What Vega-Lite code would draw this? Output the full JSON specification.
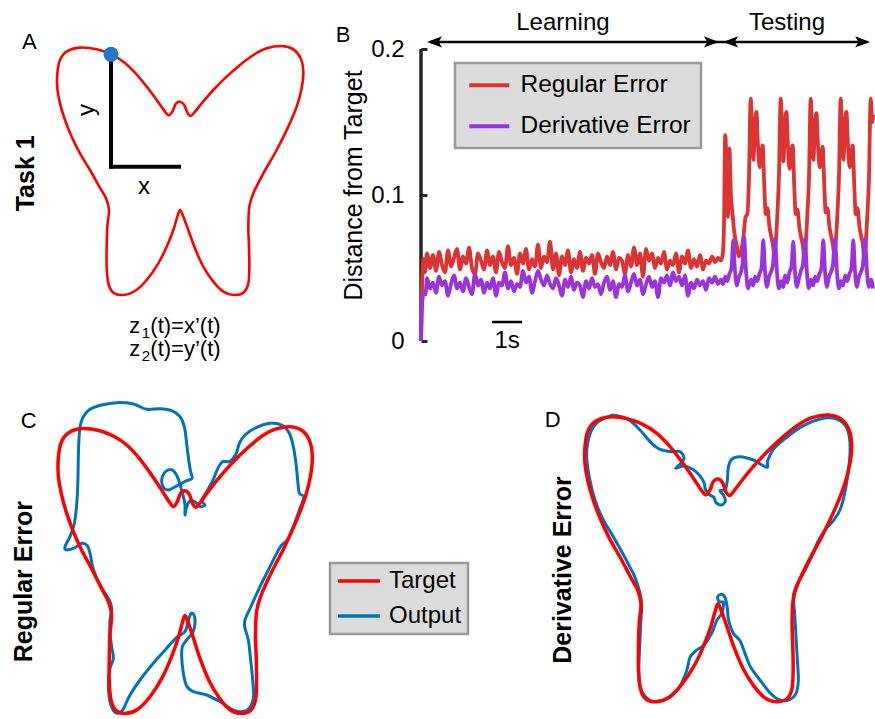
{
"$schema":"https://vega.github.io/schema/vega-lite/v6.json",
"padding":0,
"background":"white",
"config":{"view":{"stroke":null},"font":"Liberation Sans"},
"datasets":{
"target":[{"i":1,"x":333,"y":163},{"i":2,"x":370,"y":185},{"i":3,"x":405,"y":218},{"i":4,"x":440,"y":260},{"i":5,"x":470,"y":300},{"i":6,"x":495,"y":335},{"i":7,"x":507,"y":346},{"i":8,"x":518,"y":333},{"i":9,"x":527,"y":312},{"i":10,"x":540,"y":305},{"i":11,"x":553,"y":315},{"i":12,"x":562,"y":338},{"i":13,"x":572,"y":348},{"i":14,"x":585,"y":335},{"i":15,"x":605,"y":310},{"i":16,"x":640,"y":270},{"i":17,"x":680,"y":230},{"i":18,"x":720,"y":195},{"i":19,"x":760,"y":165},{"i":20,"x":800,"y":145},{"i":21,"x":845,"y":138},{"i":22,"x":880,"y":148},{"i":23,"x":902,"y":175},{"i":24,"x":910,"y":215},{"i":25,"x":905,"y":265},{"i":26,"x":890,"y":320},{"i":27,"x":865,"y":380},{"i":28,"x":830,"y":450},{"i":29,"x":790,"y":520},{"i":30,"x":760,"y":580},{"i":31,"x":748,"y":620},{"i":32,"x":745,"y":680},{"i":33,"x":747,"y":740},{"i":34,"x":748,"y":800},{"i":35,"x":745,"y":850},{"i":36,"x":730,"y":878},{"i":37,"x":700,"y":885},{"i":38,"x":670,"y":875},{"i":39,"x":640,"y":845},{"i":40,"x":610,"y":800},{"i":41,"x":585,"y":745},{"i":42,"x":565,"y":690},{"i":43,"x":550,"y":650},{"i":44,"x":540,"y":630},{"i":45,"x":532,"y":650},{"i":46,"x":520,"y":690},{"i":47,"x":500,"y":740},{"i":48,"x":475,"y":790},{"i":49,"x":440,"y":840},{"i":50,"x":405,"y":873},{"i":51,"x":370,"y":885},{"i":52,"x":340,"y":878},{"i":53,"x":325,"y":850},{"i":54,"x":320,"y":800},{"i":55,"x":320,"y":740},{"i":56,"x":322,"y":680},{"i":57,"x":327,"y":630},{"i":58,"x":318,"y":595},{"i":59,"x":298,"y":560},{"i":60,"x":270,"y":510},{"i":61,"x":240,"y":460},{"i":62,"x":215,"y":410},{"i":63,"x":195,"y":360},{"i":64,"x":180,"y":310},{"i":65,"x":172,"y":265},{"i":66,"x":172,"y":220},{"i":67,"x":180,"y":180},{"i":68,"x":200,"y":155},{"i":69,"x":240,"y":143},{"i":70,"x":290,"y":148}],
"outC":[{"i":1,"x":240,"y":140},{"i":2,"x":250,"y":110},{"i":3,"x":270,"y":88},{"i":4,"x":305,"y":75},{"i":5,"x":350,"y":68},{"i":6,"x":400,"y":72},{"i":7,"x":440,"y":88},{"i":8,"x":480,"y":86},{"i":9,"x":515,"y":92},{"i":10,"x":540,"y":110},{"i":11,"x":553,"y":140},{"i":12,"x":560,"y":190},{"i":13,"x":566,"y":240},{"i":14,"x":572,"y":275},{"i":15,"x":576,"y":295},{"i":16,"x":560,"y":302},{"i":17,"x":535,"y":315},{"i":18,"x":505,"y":330},{"i":19,"x":488,"y":318},{"i":20,"x":487,"y":290},{"i":21,"x":500,"y":272},{"i":22,"x":517,"y":270},{"i":23,"x":532,"y":290},{"i":24,"x":542,"y":320},{"i":25,"x":550,"y":350},{"i":26,"x":555,"y":375},{"i":27,"x":555,"y":405},{"i":28,"x":560,"y":380},{"i":29,"x":572,"y":362},{"i":30,"x":588,"y":368},{"i":31,"x":600,"y":380},{"i":32,"x":615,"y":375},{"i":33,"x":605,"y":362},{"i":34,"x":620,"y":335},{"i":35,"x":640,"y":298},{"i":36,"x":655,"y":262},{"i":37,"x":668,"y":245},{"i":38,"x":690,"y":244},{"i":39,"x":708,"y":222},{"i":40,"x":718,"y":190},{"i":41,"x":735,"y":165},{"i":42,"x":770,"y":142},{"i":43,"x":810,"y":130},{"i":44,"x":845,"y":135},{"i":45,"x":868,"y":160},{"i":46,"x":880,"y":200},{"i":47,"x":888,"y":250},{"i":48,"x":893,"y":300},{"i":49,"x":898,"y":340},{"i":50,"x":912,"y":350},{"i":51,"x":900,"y":385},{"i":52,"x":880,"y":440},{"i":53,"x":862,"y":480},{"i":54,"x":845,"y":495},{"i":55,"x":830,"y":520},{"i":56,"x":805,"y":570},{"i":57,"x":780,"y":620},{"i":58,"x":755,"y":675},{"i":59,"x":735,"y":720},{"i":60,"x":735,"y":745},{"i":61,"x":745,"y":780},{"i":62,"x":752,"y":840},{"i":63,"x":758,"y":900},{"i":64,"x":760,"y":955},{"i":65,"x":742,"y":990},{"i":66,"x":705,"y":992},{"i":67,"x":665,"y":968},{"i":68,"x":620,"y":945},{"i":69,"x":580,"y":935},{"i":70,"x":560,"y":918},{"i":71,"x":550,"y":880},{"i":72,"x":545,"y":830},{"i":73,"x":547,"y":800},{"i":74,"x":560,"y":780},{"i":75,"x":578,"y":758},{"i":76,"x":585,"y":730},{"i":77,"x":582,"y":705},{"i":78,"x":573,"y":700},{"i":79,"x":565,"y":722},{"i":80,"x":555,"y":755},{"i":81,"x":530,"y":772},{"i":82,"x":500,"y":805},{"i":83,"x":460,"y":850},{"i":84,"x":420,"y":900},{"i":85,"x":390,"y":945},{"i":86,"x":368,"y":990},{"i":87,"x":352,"y":1000},{"i":88,"x":338,"y":988},{"i":89,"x":328,"y":955},{"i":90,"x":325,"y":900},{"i":91,"x":330,"y":865},{"i":92,"x":340,"y":835},{"i":93,"x":335,"y":800},{"i":94,"x":330,"y":760},{"i":95,"x":330,"y":720},{"i":96,"x":335,"y":688},{"i":97,"x":328,"y":660},{"i":98,"x":310,"y":632},{"i":99,"x":292,"y":600},{"i":100,"x":278,"y":560},{"i":101,"x":270,"y":520},{"i":102,"x":262,"y":497},{"i":103,"x":245,"y":490},{"i":104,"x":225,"y":503},{"i":105,"x":200,"y":510},{"i":106,"x":195,"y":500},{"i":107,"x":210,"y":470},{"i":108,"x":222,"y":435},{"i":109,"x":228,"y":395},{"i":110,"x":232,"y":345},{"i":111,"x":234,"y":290},{"i":112,"x":235,"y":230},{"i":113,"x":237,"y":175},{"i":114,"x":240,"y":140}],
"outD":[{"i":1,"x":220,"y":105},{"i":2,"x":265,"y":118},{"i":3,"x":300,"y":150},{"i":4,"x":335,"y":190},{"i":5,"x":360,"y":208},{"i":6,"x":395,"y":215},{"i":7,"x":420,"y":215},{"i":8,"x":432,"y":235},{"i":9,"x":418,"y":255},{"i":10,"x":408,"y":265},{"i":11,"x":430,"y":258},{"i":12,"x":458,"y":268},{"i":13,"x":480,"y":288},{"i":14,"x":492,"y":308},{"i":15,"x":497,"y":330},{"i":16,"x":510,"y":345},{"i":17,"x":522,"y":352},{"i":18,"x":528,"y":368},{"i":19,"x":545,"y":375},{"i":20,"x":556,"y":362},{"i":21,"x":550,"y":345},{"i":22,"x":540,"y":332},{"i":23,"x":556,"y":328},{"i":24,"x":562,"y":300},{"i":25,"x":565,"y":262},{"i":26,"x":575,"y":238},{"i":27,"x":600,"y":230},{"i":28,"x":640,"y":240},{"i":29,"x":680,"y":262},{"i":30,"x":683,"y":242},{"i":31,"x":700,"y":208},{"i":32,"x":740,"y":172},{"i":33,"x":790,"y":137},{"i":34,"x":840,"y":117},{"i":35,"x":882,"y":115},{"i":36,"x":915,"y":135},{"i":37,"x":928,"y":170},{"i":38,"x":930,"y":220},{"i":39,"x":924,"y":280},{"i":40,"x":914,"y":340},{"i":41,"x":900,"y":390},{"i":42,"x":880,"y":422},{"i":43,"x":856,"y":448},{"i":44,"x":835,"y":482},{"i":45,"x":815,"y":530},{"i":46,"x":790,"y":580},{"i":47,"x":770,"y":615},{"i":48,"x":760,"y":650},{"i":49,"x":764,"y":700},{"i":50,"x":768,"y":770},{"i":51,"x":772,"y":840},{"i":52,"x":775,"y":900},{"i":53,"x":768,"y":940},{"i":54,"x":745,"y":960},{"i":55,"x":715,"y":958},{"i":56,"x":690,"y":938},{"i":57,"x":660,"y":900},{"i":58,"x":632,"y":862},{"i":59,"x":615,"y":820},{"i":60,"x":600,"y":782},{"i":61,"x":580,"y":760},{"i":62,"x":566,"y":722},{"i":63,"x":562,"y":685},{"i":64,"x":556,"y":655},{"i":65,"x":545,"y":643},{"i":66,"x":533,"y":650},{"i":67,"x":538,"y":665},{"i":68,"x":550,"y":668},{"i":69,"x":545,"y":700},{"i":70,"x":530,"y":722},{"i":71,"x":515,"y":760},{"i":72,"x":492,"y":795},{"i":73,"x":468,"y":812},{"i":74,"x":450,"y":832},{"i":75,"x":440,"y":872},{"i":76,"x":420,"y":918},{"i":77,"x":395,"y":948},{"i":78,"x":370,"y":960},{"i":79,"x":340,"y":965},{"i":80,"x":318,"y":952},{"i":81,"x":302,"y":925},{"i":82,"x":296,"y":880},{"i":83,"x":299,"y":800},{"i":84,"x":302,"y":730},{"i":85,"x":305,"y":680},{"i":86,"x":300,"y":640},{"i":87,"x":285,"y":592},{"i":88,"x":268,"y":558},{"i":89,"x":248,"y":520},{"i":90,"x":220,"y":470},{"i":91,"x":190,"y":420},{"i":92,"x":165,"y":360},{"i":93,"x":148,"y":292},{"i":94,"x":140,"y":222},{"i":95,"x":150,"y":162},{"i":96,"x":175,"y":125},{"i":97,"x":220,"y":105}],
"reg":[{"t":0,"v":0},{"t":0.04,"v":0.04},{"t":0.08,"v":0.056},{"t":0.13,"v":0.047},{"t":0.2,"v":0.06},{"t":0.3,"v":0.05},{"t":0.4,"v":0.059},{"t":0.5,"v":0.048},{"t":0.6,"v":0.061},{"t":0.7,"v":0.052},{"t":0.8,"v":0.047},{"t":0.9,"v":0.062},{"t":1.0,"v":0.051},{"t":1.1,"v":0.057},{"t":1.2,"v":0.063},{"t":1.3,"v":0.049},{"t":1.4,"v":0.058},{"t":1.5,"v":0.053},{"t":1.6,"v":0.064},{"t":1.7,"v":0.05},{"t":1.8,"v":0.046},{"t":1.9,"v":0.06},{"t":2.0,"v":0.055},{"t":2.1,"v":0.049},{"t":2.2,"v":0.062},{"t":2.3,"v":0.052},{"t":2.4,"v":0.058},{"t":2.5,"v":0.047},{"t":2.6,"v":0.061},{"t":2.7,"v":0.054},{"t":2.8,"v":0.05},{"t":2.9,"v":0.065},{"t":3.0,"v":0.052},{"t":3.1,"v":0.057},{"t":3.2,"v":0.046},{"t":3.3,"v":0.06},{"t":3.4,"v":0.053},{"t":3.5,"v":0.063},{"t":3.6,"v":0.049},{"t":3.7,"v":0.056},{"t":3.8,"v":0.051},{"t":3.9,"v":0.066},{"t":4.0,"v":0.05},{"t":4.1,"v":0.058},{"t":4.2,"v":0.054},{"t":4.3,"v":0.068},{"t":4.4,"v":0.049},{"t":4.5,"v":0.06},{"t":4.6,"v":0.045},{"t":4.7,"v":0.058},{"t":4.8,"v":0.052},{"t":4.9,"v":0.062},{"t":5.0,"v":0.047},{"t":5.1,"v":0.056},{"t":5.2,"v":0.05},{"t":5.3,"v":0.061},{"t":5.4,"v":0.048},{"t":5.5,"v":0.057},{"t":5.6,"v":0.053},{"t":5.7,"v":0.059},{"t":5.8,"v":0.046},{"t":5.9,"v":0.06},{"t":6.0,"v":0.054},{"t":6.1,"v":0.05},{"t":6.2,"v":0.058},{"t":6.3,"v":0.052},{"t":6.4,"v":0.061},{"t":6.5,"v":0.049},{"t":6.6,"v":0.057},{"t":6.7,"v":0.055},{"t":6.8,"v":0.046},{"t":6.9,"v":0.059},{"t":7.0,"v":0.051},{"t":7.1,"v":0.064},{"t":7.2,"v":0.052},{"t":7.3,"v":0.06},{"t":7.4,"v":0.044},{"t":7.5,"v":0.063},{"t":7.6,"v":0.055},{"t":7.7,"v":0.06},{"t":7.8,"v":0.05},{"t":7.9,"v":0.057},{"t":8.0,"v":0.053},{"t":8.1,"v":0.061},{"t":8.2,"v":0.049},{"t":8.3,"v":0.055},{"t":8.4,"v":0.052},{"t":8.5,"v":0.06},{"t":8.6,"v":0.047},{"t":8.7,"v":0.058},{"t":8.8,"v":0.053},{"t":8.9,"v":0.062},{"t":9.0,"v":0.05},{"t":9.1,"v":0.056},{"t":9.2,"v":0.051},{"t":9.3,"v":0.059},{"t":9.4,"v":0.049},{"t":9.5,"v":0.055},{"t":9.6,"v":0.053},{"t":9.7,"v":0.058},{"t":9.8,"v":0.054},{"t":9.9,"v":0.057},{"t":10.0,"v":0.055},{"t":10.06,"v":0.06},{"t":10.1,"v":0.08},{"t":10.14,"v":0.141},{"t":10.19,"v":0.118},{"t":10.23,"v":0.085},{"t":10.28,"v":0.132},{"t":10.33,"v":0.1},{"t":10.38,"v":0.088},{"t":10.44,"v":0.075},{"t":10.52,"v":0.066},{"t":10.6,"v":0.058},{"t":10.68,"v":0.062},{"t":10.75,"v":0.072},{"t":10.82,"v":0.085},{"t":10.88,"v":0.087},{"t":10.93,"v":0.11},{"t":10.99,"v":0.166},{"t":11.04,"v":0.14},{"t":11.08,"v":0.124},{"t":11.13,"v":0.148},{"t":11.18,"v":0.157},{"t":11.23,"v":0.135},{"t":11.29,"v":0.119},{"t":11.34,"v":0.127},{"t":11.39,"v":0.134},{"t":11.44,"v":0.108},{"t":11.49,"v":0.087},{"t":11.55,"v":0.091},{"t":11.61,"v":0.079},{"t":11.67,"v":0.072},{"t":11.73,"v":0.066},{"t":11.77,"v":0.06},{"t":11.88,"v":0.087},{"t":11.93,"v":0.112},{"t":11.99,"v":0.166},{"t":12.04,"v":0.141},{"t":12.08,"v":0.123},{"t":12.13,"v":0.149},{"t":12.18,"v":0.157},{"t":12.23,"v":0.134},{"t":12.29,"v":0.118},{"t":12.34,"v":0.128},{"t":12.39,"v":0.134},{"t":12.44,"v":0.107},{"t":12.49,"v":0.087},{"t":12.55,"v":0.09},{"t":12.61,"v":0.078},{"t":12.67,"v":0.071},{"t":12.73,"v":0.065},{"t":12.77,"v":0.058},{"t":12.88,"v":0.087},{"t":12.93,"v":0.11},{"t":12.99,"v":0.166},{"t":13.04,"v":0.14},{"t":13.08,"v":0.124},{"t":13.13,"v":0.148},{"t":13.18,"v":0.156},{"t":13.23,"v":0.135},{"t":13.29,"v":0.119},{"t":13.34,"v":0.127},{"t":13.39,"v":0.133},{"t":13.44,"v":0.108},{"t":13.49,"v":0.088},{"t":13.55,"v":0.091},{"t":13.61,"v":0.079},{"t":13.67,"v":0.072},{"t":13.73,"v":0.066},{"t":13.77,"v":0.06},{"t":13.88,"v":0.087},{"t":13.93,"v":0.111},{"t":13.99,"v":0.166},{"t":14.04,"v":0.14},{"t":14.08,"v":0.124},{"t":14.13,"v":0.148},{"t":14.18,"v":0.157},{"t":14.23,"v":0.135},{"t":14.29,"v":0.119},{"t":14.34,"v":0.127},{"t":14.39,"v":0.134},{"t":14.44,"v":0.108},{"t":14.49,"v":0.087},{"t":14.55,"v":0.091},{"t":14.61,"v":0.079},{"t":14.67,"v":0.072},{"t":14.73,"v":0.066},{"t":14.77,"v":0.058},{"t":14.88,"v":0.087},{"t":14.93,"v":0.11},{"t":14.99,"v":0.166},{"t":15.04,"v":0.15},{"t":15.07,"v":0.155}],
"der":[{"t":0,"v":0},{"t":0.04,"v":0.026},{"t":0.1,"v":0.034},{"t":0.15,"v":0.032},{"t":0.2,"v":0.043},{"t":0.3,"v":0.036},{"t":0.4,"v":0.04},{"t":0.5,"v":0.033},{"t":0.6,"v":0.044},{"t":0.7,"v":0.038},{"t":0.8,"v":0.041},{"t":0.9,"v":0.031},{"t":1.0,"v":0.039},{"t":1.1,"v":0.045},{"t":1.2,"v":0.036},{"t":1.3,"v":0.04},{"t":1.4,"v":0.034},{"t":1.5,"v":0.043},{"t":1.6,"v":0.037},{"t":1.7,"v":0.032},{"t":1.8,"v":0.046},{"t":1.9,"v":0.038},{"t":2.0,"v":0.042},{"t":2.1,"v":0.033},{"t":2.2,"v":0.04},{"t":2.3,"v":0.036},{"t":2.4,"v":0.043},{"t":2.5,"v":0.031},{"t":2.6,"v":0.04},{"t":2.7,"v":0.038},{"t":2.8,"v":0.047},{"t":2.9,"v":0.036},{"t":3.0,"v":0.041},{"t":3.1,"v":0.034},{"t":3.2,"v":0.039},{"t":3.3,"v":0.037},{"t":3.4,"v":0.048},{"t":3.5,"v":0.04},{"t":3.6,"v":0.044},{"t":3.7,"v":0.033},{"t":3.8,"v":0.041},{"t":3.9,"v":0.048},{"t":4.0,"v":0.042},{"t":4.1,"v":0.038},{"t":4.2,"v":0.045},{"t":4.3,"v":0.039},{"t":4.4,"v":0.036},{"t":4.5,"v":0.043},{"t":4.6,"v":0.038},{"t":4.7,"v":0.031},{"t":4.8,"v":0.042},{"t":4.9,"v":0.037},{"t":5.0,"v":0.044},{"t":5.1,"v":0.035},{"t":5.2,"v":0.04},{"t":5.3,"v":0.038},{"t":5.4,"v":0.03},{"t":5.5,"v":0.041},{"t":5.6,"v":0.036},{"t":5.7,"v":0.043},{"t":5.8,"v":0.037},{"t":5.9,"v":0.039},{"t":6.0,"v":0.032},{"t":6.1,"v":0.04},{"t":6.2,"v":0.044},{"t":6.3,"v":0.035},{"t":6.4,"v":0.041},{"t":6.5,"v":0.03},{"t":6.6,"v":0.039},{"t":6.7,"v":0.037},{"t":6.8,"v":0.045},{"t":6.9,"v":0.034},{"t":7.0,"v":0.04},{"t":7.1,"v":0.046},{"t":7.2,"v":0.038},{"t":7.3,"v":0.042},{"t":7.4,"v":0.032},{"t":7.5,"v":0.039},{"t":7.6,"v":0.044},{"t":7.7,"v":0.037},{"t":7.8,"v":0.041},{"t":7.9,"v":0.03},{"t":8.0,"v":0.043},{"t":8.1,"v":0.04},{"t":8.2,"v":0.045},{"t":8.3,"v":0.038},{"t":8.4,"v":0.047},{"t":8.5,"v":0.041},{"t":8.6,"v":0.044},{"t":8.7,"v":0.038},{"t":8.8,"v":0.045},{"t":8.9,"v":0.031},{"t":9.0,"v":0.04},{"t":9.1,"v":0.036},{"t":9.2,"v":0.042},{"t":9.3,"v":0.038},{"t":9.4,"v":0.041},{"t":9.5,"v":0.035},{"t":9.6,"v":0.043},{"t":9.7,"v":0.04},{"t":9.8,"v":0.044},{"t":9.9,"v":0.039},{"t":10.0,"v":0.042},{"t":10.07,"v":0.039},{"t":10.14,"v":0.044},{"t":10.21,"v":0.041},{"t":10.28,"v":0.046},{"t":10.35,"v":0.05},{"t":10.41,"v":0.069},{"t":10.46,"v":0.05},{"t":10.53,"v":0.038},{"t":10.6,"v":0.044},{"t":10.66,"v":0.047},{"t":10.72,"v":0.053},{"t":10.77,"v":0.071},{"t":10.83,"v":0.049},{"t":10.9,"v":0.036},{"t":11.0,"v":0.042},{"t":11.07,"v":0.038},{"t":11.14,"v":0.044},{"t":11.21,"v":0.041},{"t":11.28,"v":0.046},{"t":11.35,"v":0.05},{"t":11.41,"v":0.069},{"t":11.46,"v":0.05},{"t":11.53,"v":0.037},{"t":11.6,"v":0.044},{"t":11.66,"v":0.047},{"t":11.73,"v":0.052},{"t":11.8,"v":0.07},{"t":11.86,"v":0.049},{"t":11.93,"v":0.036},{"t":12.0,"v":0.041},{"t":12.07,"v":0.037},{"t":12.14,"v":0.045},{"t":12.21,"v":0.04},{"t":12.28,"v":0.047},{"t":12.35,"v":0.051},{"t":12.41,"v":0.068},{"t":12.46,"v":0.049},{"t":12.53,"v":0.037},{"t":12.6,"v":0.043},{"t":12.66,"v":0.048},{"t":12.73,"v":0.052},{"t":12.8,"v":0.07},{"t":12.86,"v":0.048},{"t":12.93,"v":0.036},{"t":13.0,"v":0.042},{"t":13.07,"v":0.038},{"t":13.14,"v":0.044},{"t":13.21,"v":0.041},{"t":13.28,"v":0.046},{"t":13.35,"v":0.05},{"t":13.41,"v":0.069},{"t":13.46,"v":0.05},{"t":13.53,"v":0.037},{"t":13.6,"v":0.044},{"t":13.66,"v":0.047},{"t":13.73,"v":0.052},{"t":13.8,"v":0.07},{"t":13.86,"v":0.049},{"t":13.93,"v":0.036},{"t":14.0,"v":0.041},{"t":14.07,"v":0.038},{"t":14.14,"v":0.045},{"t":14.21,"v":0.041},{"t":14.28,"v":0.046},{"t":14.35,"v":0.05},{"t":14.41,"v":0.069},{"t":14.46,"v":0.05},{"t":14.53,"v":0.037},{"t":14.6,"v":0.044},{"t":14.66,"v":0.047},{"t":14.73,"v":0.052},{"t":14.8,"v":0.07},{"t":14.86,"v":0.049},{"t":14.93,"v":0.037},{"t":15.0,"v":0.042},{"t":15.07,"v":0.036}]
},
"spacing":10,
"resolve":{"scale":{"color":"independent"},"legend":{"color":"independent"}},
"vconcat":[
{"hconcat":[
 {"width":320,"height":370,
  "encoding":{"x":{"field":"x","type":"quantitative","scale":{"domain":[0,960],"nice":false,"zero":false},"axis":null},
              "y":{"field":"y","type":"quantitative","scale":{"domain":[1110,0],"nice":false,"zero":false},"axis":null}},
  "layer":[
   {"data":{"name":"target"},"mark":{"type":"line","color":"#ff0000","strokeWidth":2.6,"interpolate":"cardinal-closed"},"encoding":{"order":{"field":"i","type":"quantitative"}}},
   {"data":{"values":[{"x":333,"y":163,"x2":333,"y2":500},{"x":333,"y":500,"x2":537,"y2":500}]},"mark":{"type":"rule","color":"black","strokeWidth":4,"strokeCap":"square"},"encoding":{"x2":{"field":"x2"},"y2":{"field":"y2"}}},
   {"data":{"values":[{"x":333,"y":163}]},"mark":{"type":"point","filled":true,"color":"#1f78c8","size":225,"opacity":1}},
   {"data":{"values":[{"x":88,"y":125,"label":"A"}]},"mark":{"type":"text","fontSize":22,"align":"center","baseline":"middle"},"encoding":{"text":{"field":"label"}}},
   {"data":{"values":[{"x":432,"y":562,"label":"x"}]},"mark":{"type":"text","fontSize":24,"align":"center","baseline":"middle"},"encoding":{"text":{"field":"label"}}},
   {"data":{"values":[{"x":262,"y":330,"label":"y"}]},"mark":{"type":"text","fontSize":24,"align":"center","baseline":"middle","angle":270},"encoding":{"text":{"field":"label"}}},
   {"data":{"values":[{"x":78,"y":520,"label":"Task 1"}]},"mark":{"type":"text","fontSize":25,"fontWeight":"bold","align":"center","baseline":"middle","angle":270},"encoding":{"text":{"field":"label"}}},
   {"data":{"values":[{"x":388,"y":1000,"label":"z"},{"x":451,"y":1000,"label":"(t)=x’(t)"},{"x":388,"y":1068,"label":"z"},{"x":451,"y":1068,"label":"(t)=y’(t)"}]},"mark":{"type":"text","fontSize":22,"align":"left","baseline":"alphabetic"},"encoding":{"text":{"field":"label"}}},
   {"data":{"values":[{"x":425,"y":1015,"label":"1"},{"x":425,"y":1083,"label":"2"}]},"mark":{"type":"text","fontSize":15,"align":"left","baseline":"alphabetic"},"encoding":{"text":{"field":"label"}}}
  ]},
 {"width":454,"height":370,
  "encoding":{"x":{"field":"t","type":"quantitative","scale":{"domain":[0,15.1333],"nice":false,"zero":false},"axis":null},
              "y":{"field":"v","type":"quantitative","scale":{"domain":[-0.019863,0.233562],"nice":false,"zero":false},
                   "axis":{"values":[0,0.1,0.2],"format":"~g","domain":false,"grid":false,"ticks":true,"tickSize":-6,"tickWidth":3,"tickColor":"#262626","labelFontSize":24,"labelColor":"black","labelPadding":23,"title":"Distance from Target","titleFontSize":25,"titleFontWeight":"normal","titleColor":"black","titlePadding":4}}},
  "layer":[
   {"data":{"values":[{"t":0,"v":0,"v2":0.2}]},"mark":{"type":"rule","color":"#262626","strokeWidth":3.5},"encoding":{"y2":{"field":"v2"}}},
   {"data":{"name":"reg"},"mark":{"type":"line","strokeWidth":3.8,"interpolate":"monotone"},
    "encoding":{"color":{"datum":"Regular Error","type":"nominal","scale":{"domain":["Regular Error","Derivative Error"],"range":["#dd3333","#9933dd"]},
      "legend":{"orient":"none","legendX":34,"legendY":63,"title":null,"fillColor":"#dcdcdc","strokeColor":"#9a9a9a","padding":10,"symbolType":"M-4,0L4,0","symbolSize":100,"symbolStrokeWidth":4,"symbolOffset":12,"labelOffset":19,"labelFontSize":24.5,"labelColor":"black","labelLimit":400,"rowPadding":16,
        "encode":{"legend":{"update":{"strokeWidth":{"value":2.5}}}}}}}},
   {"data":{"name":"der"},"mark":{"type":"line","strokeWidth":3.8,"interpolate":"monotone"},"encoding":{"color":{"datum":"Derivative Error","type":"nominal"}}},
   {"data":{"values":[{"t":0.3,"v":0.2048,"t2":14.85},{"t":2.37,"v":0.013,"t2":3.37}]},"mark":{"type":"rule","color":"black","strokeWidth":2.5},"encoding":{"x2":{"field":"t2"}}},
   {"data":{"values":[{"t":0.45,"v":0.2048,"d":"L"},{"t":9.68,"v":0.2048,"d":"R"},{"t":10.32,"v":0.2048,"d":"L"},{"t":14.72,"v":0.2048,"d":"R"}]},
    "mark":{"type":"point","filled":true,"color":"black","opacity":1,"size":225,"strokeWidth":0},
    "encoding":{"shape":{"field":"d","type":"nominal","scale":{"domain":["L","R"],"range":["M-1,0L1,-0.75L0.55,0L1,0.75Z","M1,0L-1,-0.75L-0.55,0L-1,0.75Z"]},"legend":null}}},
   {"data":{"values":[{"t":4.73,"v":0.213,"label":"Learning"},{"t":12.2,"v":0.213,"label":"Testing"},{"t":2.87,"v":-0.0048,"label":"1s"}]},"mark":{"type":"text","fontSize":24,"align":"center","baseline":"alphabetic"},"encoding":{"text":{"field":"label"}}},
   {"data":{"values":[{"t":-2.6,"v":0.2096,"label":"B"}]},"mark":{"type":"text","fontSize":22,"align":"center","baseline":"middle"},"encoding":{"text":{"field":"label"}}}
  ]}
 ],"spacing":101,"bounds":"flush","resolve":{"scale":{"color":"independent"},"legend":{"color":"independent"}}},
{"hconcat":[
 {"width":330,"height":339,
  "resolve":{"scale":{"x":"independent","y":"independent"}},
  "layer":[
   {"encoding":{"x":{"field":"x","type":"quantitative","scale":{"domain":[0,990],"nice":false,"zero":false},"axis":null},
                "y":{"field":"y","type":"quantitative","scale":{"domain":[1017,0],"nice":false,"zero":false},"axis":null}},
    "layer":[
     {"data":{"name":"outC"},"mark":{"type":"line","strokeWidth":3,"interpolate":"cardinal"},"encoding":{"order":{"field":"i","type":"quantitative"},"color":{"datum":"Output","type":"nominal"}}},
     {"data":{"values":[{"x":86,"y":124,"label":"C"}]},"mark":{"type":"text","fontSize":22,"align":"center","baseline":"middle"},"encoding":{"text":{"field":"label"}}},
     {"data":{"values":[{"x":72,"y":605,"label":"Regular Error"}]},"mark":{"type":"text","fontSize":25,"fontWeight":"bold","align":"center","baseline":"middle","angle":270},"encoding":{"text":{"field":"label"}}}
    ]},
   {"data":{"name":"target"},"mark":{"type":"line","strokeWidth":3.5,"interpolate":"cardinal-closed"},
    "encoding":{"x":{"field":"x","type":"quantitative","scale":{"domain":[2.6,961.4],"nice":false,"zero":false},"axis":null},
                "y":{"field":"y","type":"quantitative","scale":{"domain":[899.8,16.3],"nice":false,"zero":false},"axis":null},
                "order":{"field":"i","type":"quantitative"},
                "color":{"datum":"Target","type":"nominal","scale":{"domain":["Target","Output"],"range":["#ff0000","#0072bd"]},
                  "legend":{"orient":"none","legendX":330,"legendY":183,"title":null,"fillColor":"#dcdcdc","strokeColor":"#9a9a9a","padding":6,"symbolType":"M-4.2,0L4.2,0","symbolSize":100,"symbolStrokeWidth":3.5,"symbolOffset":11,"labelOffset":18,"labelFontSize":24,"labelColor":"black","labelLimit":300,"rowPadding":11,
                    "encode":{"legend":{"update":{"strokeWidth":{"value":2.5}}}}}}}}
  ]},
 {"width":335,"height":339,
  "resolve":{"scale":{"x":"independent","y":"independent"}},
  "layer":[
   {"encoding":{"x":{"field":"x","type":"quantitative","scale":{"domain":[0,1005],"nice":false,"zero":false},"axis":null},
                "y":{"field":"y","type":"quantitative","scale":{"domain":[1017,0],"nice":false,"zero":false},"axis":null}},
    "layer":[
     {"data":{"name":"outD"},"mark":{"type":"line","strokeWidth":3,"color":"#0072bd","interpolate":"cardinal"},"encoding":{"order":{"field":"i","type":"quantitative"}}},
     {"data":{"values":[{"x":38,"y":120,"label":"D"}]},"mark":{"type":"text","fontSize":22,"align":"center","baseline":"middle"},"encoding":{"text":{"field":"label"}}},
     {"data":{"values":[{"x":70,"y":570,"label":"Derivative Error"}]},"mark":{"type":"text","fontSize":25,"fontWeight":"bold","align":"center","baseline":"middle","angle":270},"encoding":{"text":{"field":"label"}}}
    ]},
   {"data":{"name":"target"},"mark":{"type":"line","strokeWidth":3.5,"color":"#ff0000","interpolate":"cardinal-closed"},
    "encoding":{"x":{"field":"x","type":"quantitative","scale":{"domain":[47.5,974.5],"nice":false,"zero":false},"axis":null},
                "y":{"field":"y","type":"quantitative","scale":{"domain":[930.1,46.8],"nice":false,"zero":false},"axis":null},
                "order":{"field":"i","type":"quantitative"}}}
  ]}
 ],"spacing":210,"bounds":"flush","resolve":{"scale":{"color":"independent"},"legend":{"color":"independent"}}}
]
}
